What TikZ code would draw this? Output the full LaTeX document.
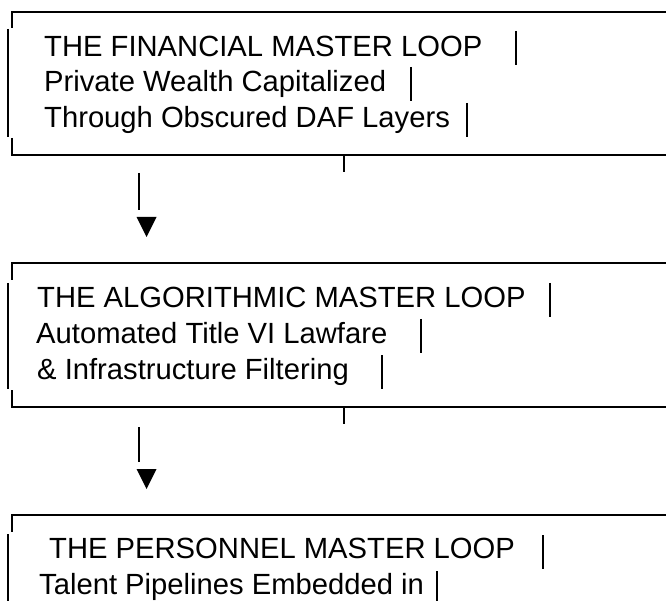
\documentclass[tikz,border=0pt]{standalone}
\usepackage{fontspec}
\setmainfont{Liberation Sans}
\begin{document}
\begin{tikzpicture}[x=1pt,y=-1pt,
  txt/.style={anchor=base west,inner sep=0pt,font=\fontsize{29.2}{35.5}\selectfont},
  rule/.style={line width=1.9pt,line cap=butt},
  bar/.style={line width=1.8pt},
  tri/.style={fill=black,draw=none}]
\useasboundingbox (0,0) rectangle (666,601);
\fill[white] (0,0) rectangle (666,601);

% ---------- Box 1 ----------
\node[txt] (t11) at (44,57) {THE FINANCIAL MASTER LOOP};
\node[txt] (t12) at (44,92) {Private Wealth Capitalized};
\node[txt] (t13) at (44,128) {Through Obscured DAF Layers};
\draw[rule] (11,12) -- (666,12);
\draw[rule] (11,155) -- (666,155);
\draw[bar] (12,12) -- (12,28);
\draw[bar] (8,29) -- (8,137);
\draw[bar] (12,138) -- (12,155);
\draw[bar] (516,31) -- (516,65);
\draw[bar] (411,67) -- (411,101);
\draw[bar] (467,103) -- (467,137);
\draw[bar] (344,155) -- (344,172);

% ---------- Arrow 1 ----------
\coordinate (a1s) at (139,173);
\coordinate (a1e) at (139,210);
\draw[bar] (a1s) -- (a1e);
\fill[tri] (136.5,217) -- (156.5,217) -- (146.5,237) -- cycle;

% ---------- Box 2 ----------
\node[txt] (t21) at (37,308) {THE ALGORITHMIC MASTER LOOP};
\node[txt] (t22) at (36,343.5) {Automated Title VI Lawfare};
\node[txt] (t23) at (37,379) {\& Infrastructure Filtering};
\draw[rule] (11,263) -- (666,263);
\draw[rule] (11,407) -- (666,407);
\draw[bar] (12,263) -- (12,280);
\draw[bar] (8,283) -- (8,389);
\draw[bar] (12,390) -- (12,407);
\draw[bar] (550,283) -- (550,317);
\draw[bar] (421,319) -- (421,353);
\draw[bar] (382,355) -- (382,389);
\draw[bar] (344,407) -- (344,424);

% ---------- Arrow 2 ----------
\coordinate (a2s) at (139,427);
\coordinate (a2e) at (139,462);
\draw[bar] (a2s) -- (a2e);
\fill[tri] (136.5,469) -- (156.5,469) -- (146.5,489) -- cycle;

% ---------- Box 3 ----------
\node[txt] (t31) at (49,558) {THE PERSONNEL MASTER LOOP};
\node[txt] (t32) at (39,594) {Talent Pipelines Embedded in};
\draw[rule] (11,515) -- (666,515);
\draw[bar] (12,515) -- (12,532);
\draw[bar] (8,534) -- (8,601);
\draw[bar] (543,535) -- (543,569);
\draw[bar] (437,571) -- (437,601);
\end{tikzpicture}
\end{document}
